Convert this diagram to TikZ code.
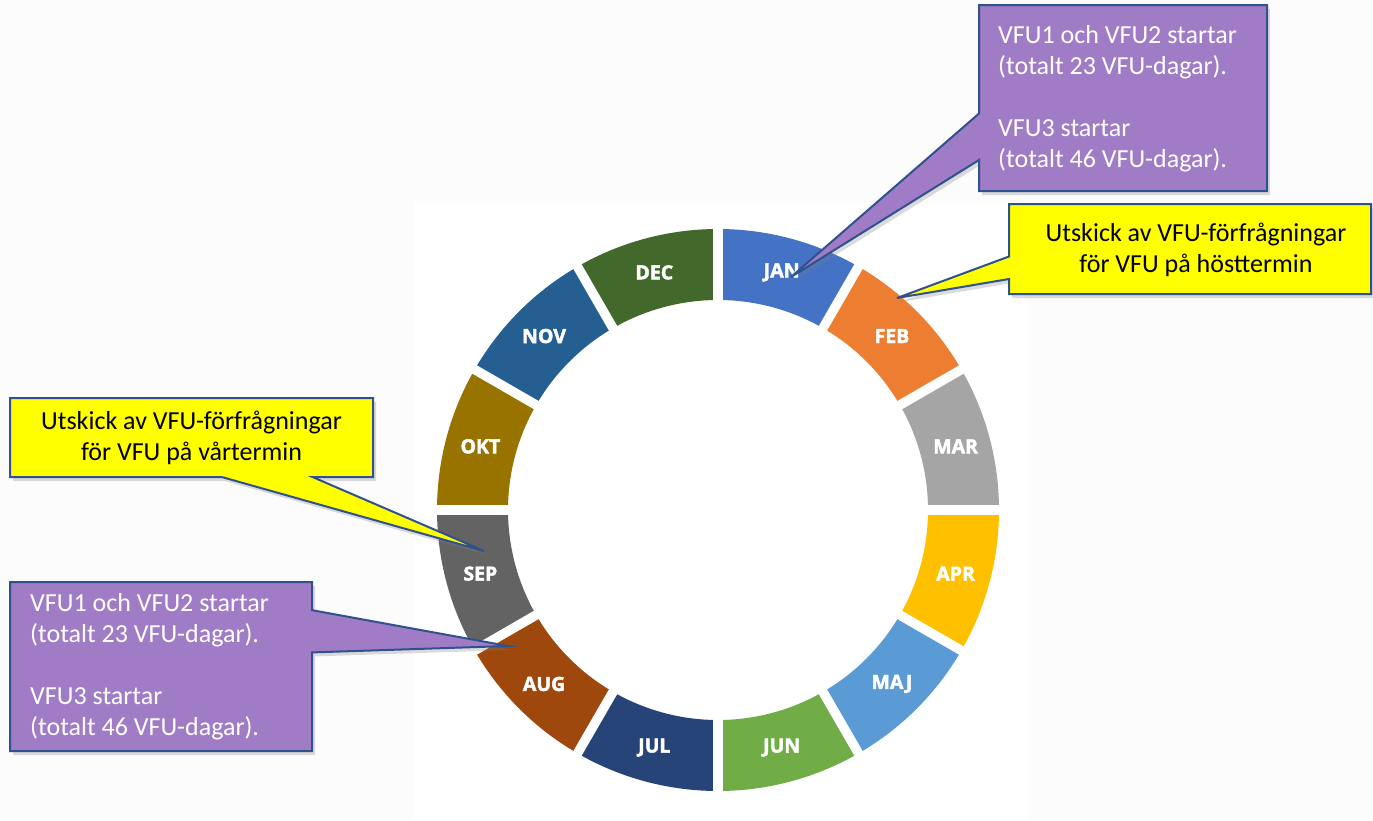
\documentclass[tikz,border=0pt]{standalone}
\usepackage{fontspec}
\setmainfont{Carlito}
\newfontfamily\monthfont{Open Sans}[BoldFeatures={FakeBold=2.2}]
\usetikzlibrary{calc,shadows}
\definecolor{cjan}{HTML}{4472C4}
\definecolor{cfeb}{HTML}{ED7D31}
\definecolor{cmar}{HTML}{A5A5A5}
\definecolor{capr}{HTML}{FFC000}
\definecolor{cmaj}{HTML}{5B9BD5}
\definecolor{cjun}{HTML}{70AD47}
\definecolor{cjul}{HTML}{264478}
\definecolor{caug}{HTML}{9E480E}
\definecolor{csep}{HTML}{636363}
\definecolor{cokt}{HTML}{997300}
\definecolor{cnov}{HTML}{255E91}
\definecolor{cdec}{HTML}{43682B}
\definecolor{pagebg}{HTML}{FCFCFC}
\definecolor{bordercol}{HTML}{2F528F}
\definecolor{purp}{HTML}{A07BC6}
\definecolor{yel}{HTML}{FFFF00}
\begin{document}
\begin{tikzpicture}[x=1pt,y=-1pt,
  phantombox/.style={inner sep=0pt, outer sep=0pt, draw=none},
  mlabel/.style={text=white, font=\monthfont\bfseries\fontsize{19.5}{19.5}\selectfont, inner sep=0pt},
  callout/.style={draw=bordercol, line width=2pt, line join=miter,
    drop shadow={shadow xshift=3pt, shadow yshift=-4pt, opacity=0.28}},
  pcall/.style={callout, fill=purp},
  ycall/.style={callout, fill=yel},
  ptext/.style={text=white, font=\fontsize{26}{31}\selectfont, align=left, inner sep=0pt},
  ytext/.style={text=black, font=\fontsize{26}{31}\selectfont, align=center, inner sep=0pt},
  gapline/.style={draw=white, line width=9.5pt}
]
% page and chart area
\fill[pagebg] (0,0) rectangle (1373,820);
\fill[white] (414,203) rectangle (1028,820);
\useasboundingbox (0,0) rectangle (1373,820);

% ring
\begin{scope}[x=1pt,y=1pt,shift={(718pt,-510pt)}]
  \foreach \col/\a in {cjan/90, cfeb/60, cmar/30, capr/0, cmaj/-30, cjun/-60,
                       cjul/-90, caug/-120, csep/-150, cokt/-180, cnov/-210, cdec/-240} {
    \fill[\col] (\a:281) arc[start angle=\a, end angle=\a-30, radius=281]
      -- (\a-30:210) arc[start angle=\a-30, end angle=\a, radius=210] -- cycle;
  }
  \foreach \a in {0,30,...,330} {
    \draw[gapline] (0,0) -- (\a:290);
  }
  \foreach \name/\a in {JAN/75, FEB/45, MAR/15, APR/-15, MAJ/-45, JUN/-75,
                        JUL/-105, AUG/-135, SEP/-165, OKT/165, NOV/135, DEC/105} {
    \node[mlabel] (m\name) at (\a:246) {\name};
  }
\end{scope}

% callout 1: purple top right
\node[phantombox, minimum width=288pt, minimum height=186pt] (c1) at (1123,98) {};
\coordinate (t1) at (791,277);
\draw[pcall] (c1.north west) -- (c1.north east) -- (c1.south east) -- (c1.south west)
  -- ($(c1.north west)!10/12!(c1.south west)$) -- (t1)
  -- ($(c1.north west)!7/12!(c1.south west)$) -- cycle;
\node[ptext, anchor=west] (c1t) at ($(c1.west)+(19,1)$)
  {VFU1 och VFU2 startar\\(totalt 23 VFU-dagar).\\[31pt]VFU3 startar\\(totalt 46 VFU-dagar).};

% callout 2: yellow top right
\node[phantombox, minimum width=362pt, minimum height=90pt] (c2) at (1190,249) {};
\coordinate (t2) at (897,298);
\draw[ycall] (c2.north west) -- (c2.north east) -- (c2.south east) -- (c2.south west)
  -- ($(c2.north west)!10/12!(c2.south west)$) -- (t2)
  -- ($(c2.north west)!7/12!(c2.south west)$) -- cycle;
\node[ytext] (c2t) at (1196,250) {Utskick av VFU-förfrågningar\\för VFU på hösttermin};

% callout 3: yellow left
\node[phantombox, minimum width=363pt, minimum height=79pt] (c3) at (191.5,437.5) {};
\coordinate (t3) at (484,551);
\draw[ycall] (c3.north west) -- (c3.north east) -- (c3.south east)
  -- ($(c3.south west)!10/12!(c3.south east)$) -- (t3)
  -- ($(c3.south west)!7/12!(c3.south east)$) -- (c3.south west) -- cycle;
\node[ytext] (c3t) at (191.5,438) {Utskick av VFU-förfrågningar\\för VFU på vårtermin};

% callout 4: purple left
\node[phantombox, minimum width=302pt, minimum height=169pt] (c4) at (161,666.5) {};
\coordinate (t4) at (508,646);
\draw[pcall] (c4.north west) -- (c4.north east)
  -- ($(c4.north east)!2/12!(c4.south east)$) -- (t4)
  -- ($(c4.north east)!5/12!(c4.south east)$) -- (c4.south east) -- (c4.south west) -- cycle;
\node[ptext, anchor=west] (c4t) at ($(c4.west)+(20,0)$)
  {VFU1 och VFU2 startar\\(totalt 23 VFU-dagar).\\[31pt]VFU3 startar\\(totalt 46 VFU-dagar).};
\end{tikzpicture}
\end{document}
